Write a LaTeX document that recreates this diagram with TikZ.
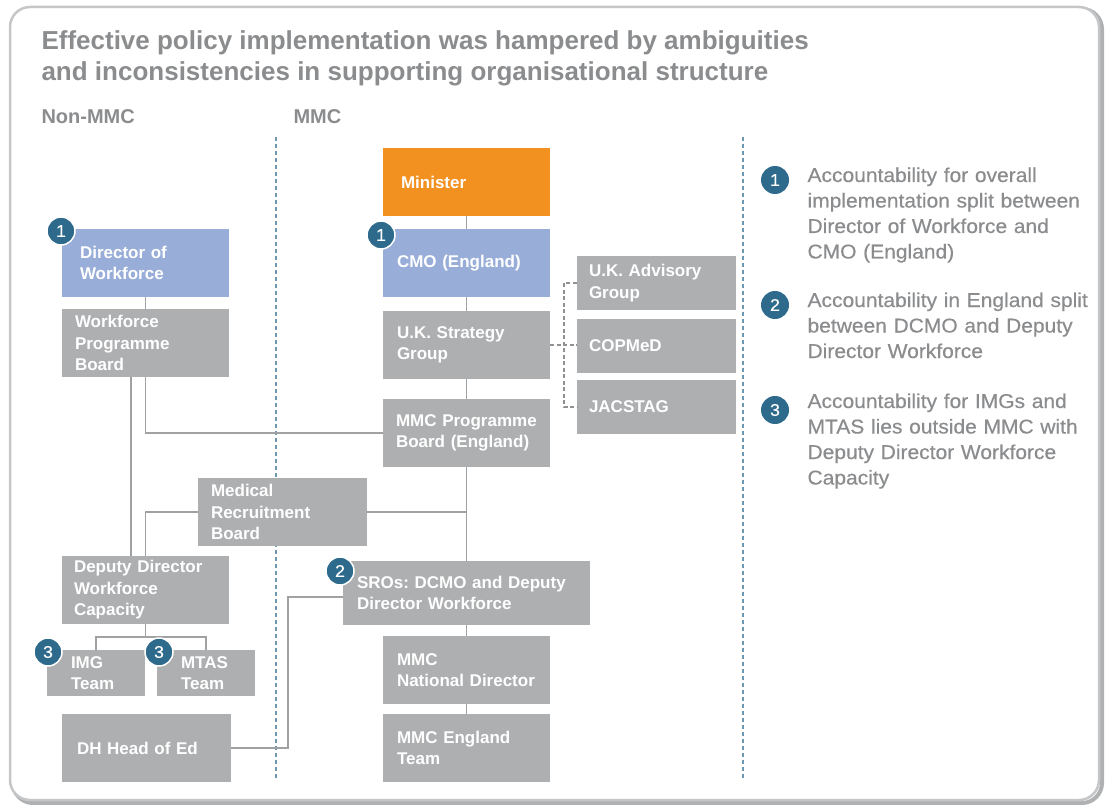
\documentclass[tikz,border=0pt]{standalone}
\usepackage{fontspec}
\setmainfont{Liberation Sans}
\newfontfamily\legendfont{Liberation Sans}[FakeStretch=1.05,FakeBold=0.4]
\usetikzlibrary{calc}
\definecolor{orangebox}{HTML}{F29120}
\definecolor{bluebox}{HTML}{98ADD7}
\definecolor{graybox}{HTML}{AEAFB1}
\definecolor{titlegray}{HTML}{8B8C8E}
\definecolor{badgeblue}{HTML}{2E6A8C}
\definecolor{divblue}{HTML}{6E98B0}
\definecolor{linegray}{HTML}{A0A1A3}
\definecolor{framegray}{HTML}{C5C6C8}
\newcommand\boxfont{\bfseries\fontsize{17}{21.5}\selectfont}
\newcommand\orgnode[8]{%
  \pgfmathsetmacro\orgw{#4-#2}\pgfmathsetmacro\orgh{#5-#3}%
  \pgfmathsetmacro\orgtw{#4-#2-2*#6}%
  \node[orgbox, fill=#7, minimum width=\orgw pt, minimum height=\orgh pt,
        text width=\orgtw pt] (#1) at ({(#2+#4)/2},{(#3+#5)/2}) {#8};}
\tikzset{
  orgbox/.style={rectangle, inner xsep=0pt, inner ysep=0pt, font=\boxfont, text=white, align=left},
  badge/.style={circle, fill=badgeblue, draw=white, line width=1.5pt, minimum size=28pt,
                inner sep=0pt, text=white, font=\legendfont\fontsize{17}{17}\selectfont},
  link/.style={draw=linegray, line width=1.3pt},
  dlink/.style={draw=linegray!90!black, line width=1.3pt, dash pattern=on 4pt off 2.5pt},
  divider/.style={draw=divblue, line width=1.3pt, dash pattern=on 4pt off 3pt},
  legendtext/.style={anchor=base west, text=titlegray, align=left, text width=300pt,
                     font=\legendfont\fontsize{20}{25.5}\selectfont},
}
\begin{document}
\begin{tikzpicture}[x=1pt,y=-1pt]
\useasboundingbox (0,0) rectangle (1111,805);
% frame
\draw[draw=framegray!70!gray, line width=4pt, rounded corners=20pt] (13,9) rectangle (1102,803);
\draw[draw=framegray, line width=2.5pt, rounded corners=20pt, fill=white] (10,7) rectangle (1099,800);
% title
\node[anchor=base west, text=titlegray, align=left, font=\bfseries\fontsize{26}{31}\selectfont]
  (title) at (38,81) {Effective policy implementation was hampered by ambiguities\\and inconsistencies in supporting organisational structure};
\node[anchor=base west, text=titlegray, font=\bfseries\fontsize{20}{20}\selectfont] (nonmmc) at (38,124) {Non-MMC};
\node[anchor=base west, text=titlegray, font=\bfseries\fontsize{20}{20}\selectfont] (mmc) at (290,124) {MMC};
% dividers
\coordinate (d1t) at (276,137); \coordinate (d1b) at (276,778);
\coordinate (d2t) at (743,137); \coordinate (d2b) at (743,778);
\draw[divider] (d1t) -- (d1b);
\draw[divider] (d2t) -- (d2b);
% boxes
\orgnode{minister}{383}{148}{550}{216}{18}{orangebox}{Minister}
\orgnode{cmo}{383}{229}{550}{297}{14}{bluebox}{CMO~(England)}
\orgnode{dow}{62}{229}{229}{297}{18}{bluebox}{Director~of\\Workforce}
\orgnode{wpb}{62}{309}{229}{377}{13}{graybox}{Workforce\\Programme\\Board}
\orgnode{uksg}{383}{311}{550}{379}{14}{graybox}{U.K.~Strategy\\Group}
\orgnode{mmcpb}{383}{399}{550}{467}{13}{graybox}{MMC~Programme\\Board~(England)}
\orgnode{ukag}{577}{256}{736}{310}{12}{graybox}{U.K.~Advisory\\Group}
\orgnode{copmed}{577}{319}{736}{373}{12}{graybox}{COPMeD}
\orgnode{jac}{577}{380}{736}{434}{12}{graybox}{JACSTAG}
\orgnode{mrb}{198}{478}{367}{546}{13}{graybox}{Medical\\Recruitment\\Board}
\orgnode{ddwc}{62}{556}{229}{624}{12}{graybox}{Deputy~Director\\Workforce\\Capacity}
\orgnode{img}{47}{650}{145}{696}{24}{graybox}{IMG\\Team}
\orgnode{mtas}{157}{650}{255}{696}{24}{graybox}{MTAS\\Team}
\orgnode{dh}{62}{714}{231}{782}{15}{graybox}{DH~Head~of~Ed}
\orgnode{sros}{343}{561}{590}{625}{14}{graybox}{SROs:~DCMO~and~Deputy\\Director~Workforce}
\orgnode{mnd}{383}{636}{550}{704}{14}{graybox}{MMC\\National~Director}
\orgnode{met}{383}{714}{550}{782}{14}{graybox}{MMC~England\\Team}
% connectors (MMC column)
\draw[link] (minister.south) -- (cmo.north);
\draw[link] (cmo.south) -- (uksg.north);
\draw[link] (uksg.south) -- (mmcpb.north);
\draw[link] (mmcpb.south) -- (mmcpb.south |- sros.north);
\draw[link] (mrb.east) -- (mrb.east -| mmcpb.south);
\draw[link] (sros.south -| mnd.north) -- (mnd.north);
\draw[link] (mnd.south) -- (met.north);
% non-MMC column
\draw[link] (dow.south) -- (wpb.north);
\coordinate (wpbleft) at (131,377);
\draw[link] (wpbleft) -- (wpbleft |- ddwc.north);
\draw[link] (wpb.south) -- (wpb.south |- mmcpb.west) -- (mmcpb.west);
\draw[link] (mrb.west) -- (mrb.west -| ddwc.north) -- (ddwc.north);
\coordinate (split) at (146,637);
\draw[link] (ddwc.south) -- (ddwc.south |- split);
\draw[link] (img.north) -- (img.north |- split) -- (mtas.north |- split) -- (mtas.north);
\coordinate (elbow) at (288,597);
\draw[link] (dh.east) -| (elbow) -- (elbow -| sros.west);
% dashed advisory links
\coordinate (bus) at (564,345);
\draw[dlink] (uksg.east) -- (uksg.east -| copmed.west);
\draw[dlink] (ukag.west) -- (ukag.west -| bus) -- (jac.west -| bus) -- (jac.west);
% badges
\node[badge] (bdow) at (61,231) {1};
\node[badge] (bcmo) at (381,235) {1};
\node[badge] (bsros) at (340,571) {2};
\node[badge] (bimg) at (48,652) {3};
\node[badge] (bmtas) at (159,652) {3};
% legend
\node[badge, draw=none] (l1) at (775,180) {1};
\node[badge, draw=none] (l2) at (775,305) {2};
\node[badge, draw=none] (l3) at (775,410) {3};
\node[legendtext] (t1) at (804,182) {Accountability for overall\\implementation split between\\Director of Workforce and\\CMO (England)};
\node[legendtext] (t2) at (804,307) {Accountability in England split\\between DCMO and Deputy\\Director Workforce};
\node[legendtext] (t3) at (804,408) {Accountability for IMGs and\\MTAS lies outside MMC with\\Deputy Director Workforce\\Capacity};
\end{tikzpicture}
\end{document}
